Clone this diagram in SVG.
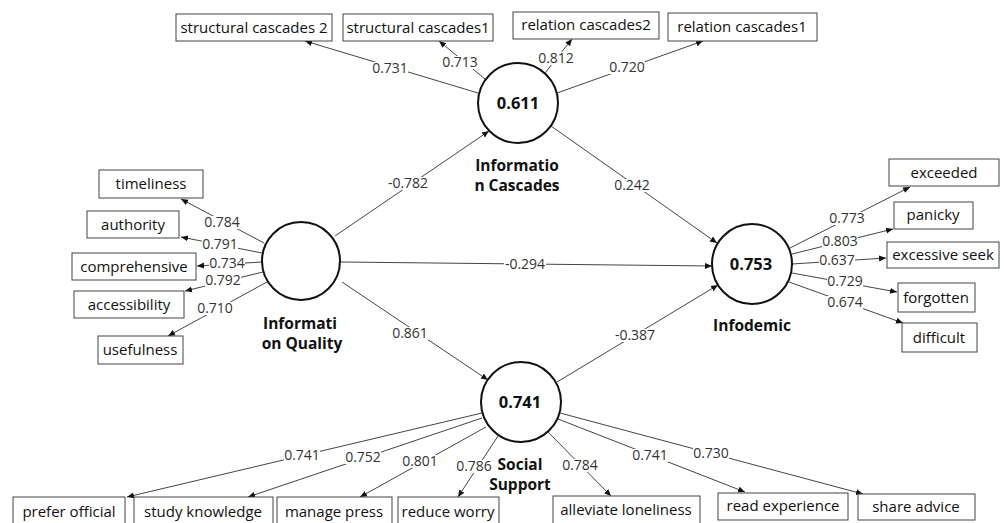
<svg xmlns="http://www.w3.org/2000/svg" width="1004" height="523" viewBox="0 0 1004 523">
<style>
.box{fill:#fff;stroke:#444;stroke-width:1}
.bt{font-family:"Open Sans","Liberation Sans",sans-serif;font-size:15px;fill:#111;text-anchor:middle}
.lat{fill:#fff;stroke:#111;stroke-width:2}
.val{font-family:"Open Sans","Liberation Sans",sans-serif;font-size:16.5px;font-weight:bold;fill:#111;text-anchor:middle}
.nm{font-family:"Open Sans","Liberation Sans",sans-serif;font-size:15.5px;font-weight:bold;fill:#111;text-anchor:middle}
.ln{stroke:#444;stroke-width:1;fill:none;marker-end:url(#ah)}
.lb{font-family:"Open Sans","Liberation Sans",sans-serif;font-size:14px;fill:#333;text-anchor:middle}
.bg{fill:#fff;stroke:none}
</style>
<defs>
<marker id="ah" markerUnits="userSpaceOnUse" markerWidth="8" markerHeight="8" refX="7" refY="4" orient="auto">
<path d="M0,1 L7,4 L0,7 z" fill="#111"/>
</marker>
</defs>
<rect width="1004" height="523" fill="#fff"/>
<g id="connectors">
<line class="ln" x1="335" y1="236" x2="489" y2="131"/>
<line class="ln" x1="551" y1="126" x2="717" y2="243"/>
<line class="ln" x1="341" y1="262" x2="712" y2="266"/>
<line class="ln" x1="342" y1="282" x2="488" y2="380"/>
<line class="ln" x1="557" y1="382" x2="718" y2="285"/>
<line class="ln" x1="478" y1="93" x2="305" y2="41"/>
<line class="ln" x1="485" y1="79" x2="439" y2="41"/>
<line class="ln" x1="545" y1="73" x2="572" y2="39"/>
<line class="ln" x1="557" y1="93" x2="703" y2="41"/>
<line class="ln" x1="264" y1="243" x2="181" y2="199"/>
<line class="ln" x1="262" y1="253" x2="181" y2="237"/>
<line class="ln" x1="262" y1="262" x2="197" y2="266"/>
<line class="ln" x1="263" y1="272" x2="185" y2="291"/>
<line class="ln" x1="267" y1="282" x2="168" y2="336"/>
<line class="ln" x1="790" y1="248" x2="910" y2="187"/>
<line class="ln" x1="792" y1="254" x2="893" y2="229"/>
<line class="ln" x1="792" y1="264" x2="886" y2="258"/>
<line class="ln" x1="792" y1="273" x2="897" y2="292"/>
<line class="ln" x1="789" y1="282" x2="903" y2="323"/>
<line class="ln" x1="482" y1="413" x2="127" y2="497"/>
<line class="ln" x1="482" y1="418" x2="248" y2="497"/>
<line class="ln" x1="486" y1="427" x2="360" y2="497"/>
<line class="ln" x1="498" y1="436" x2="458" y2="497"/>
<line class="ln" x1="548" y1="432" x2="611" y2="496"/>
<line class="ln" x1="558" y1="419" x2="745" y2="492"/>
<line class="ln" x1="560" y1="413" x2="863" y2="494"/>
<g>
<rect class="bg" x="387" y="177" width="42" height="13"/><text class="lb" x="408" y="188">-0.782</text>
<rect class="bg" x="614" y="179" width="36" height="13"/><text class="lb" x="632" y="190">0.242</text>
<rect class="bg" x="504" y="258" width="42" height="13"/><text class="lb" x="525" y="269">-0.294</text>
<rect class="bg" x="392" y="327" width="36" height="13"/><text class="lb" x="410" y="338">0.861</text>
<rect class="bg" x="614" y="329" width="42" height="13"/><text class="lb" x="635" y="340">-0.387</text>
<rect class="bg" x="372" y="62" width="36" height="13"/><text class="lb" x="390" y="73">0.731</text>
<rect class="bg" x="442" y="56" width="36" height="13"/><text class="lb" x="460" y="67">0.713</text>
<rect class="bg" x="538" y="52" width="36" height="13"/><text class="lb" x="556" y="63">0.812</text>
<rect class="bg" x="609" y="61" width="36" height="13"/><text class="lb" x="627" y="72">0.720</text>
<rect class="bg" x="204" y="216" width="36" height="13"/><text class="lb" x="222" y="227">0.784</text>
<rect class="bg" x="202" y="238" width="36" height="13"/><text class="lb" x="220" y="249">0.791</text>
<rect class="bg" x="209" y="257" width="36" height="13"/><text class="lb" x="227" y="268">0.734</text>
<rect class="bg" x="205" y="274" width="36" height="13"/><text class="lb" x="223" y="285">0.792</text>
<rect class="bg" x="197" y="302" width="36" height="13"/><text class="lb" x="215" y="313">0.710</text>
<rect class="bg" x="829" y="212" width="36" height="13"/><text class="lb" x="847" y="223">0.773</text>
<rect class="bg" x="822" y="235" width="36" height="13"/><text class="lb" x="840" y="246">0.803</text>
<rect class="bg" x="819" y="254" width="36" height="13"/><text class="lb" x="837" y="265">0.637</text>
<rect class="bg" x="827" y="275" width="36" height="13"/><text class="lb" x="845" y="286">0.729</text>
<rect class="bg" x="827" y="296" width="36" height="13"/><text class="lb" x="845" y="307">0.674</text>
<rect class="bg" x="284" y="449" width="36" height="13"/><text class="lb" x="302" y="460">0.741</text>
<rect class="bg" x="345" y="451" width="36" height="13"/><text class="lb" x="363" y="462">0.752</text>
<rect class="bg" x="402" y="455" width="36" height="13"/><text class="lb" x="420" y="466">0.801</text>
<rect class="bg" x="456" y="460" width="36" height="13"/><text class="lb" x="474" y="471">0.786</text>
<rect class="bg" x="562" y="459" width="36" height="13"/><text class="lb" x="580" y="470">0.784</text>
<rect class="bg" x="632" y="449" width="36" height="13"/><text class="lb" x="650" y="460">0.741</text>
<rect class="bg" x="693" y="447" width="36" height="13"/><text class="lb" x="711" y="458">0.730</text>
</g>
</g>
<g id="information-cascades">
<circle class="lat" cx="518" cy="103" r="40"/>
<text class="val" x="518" y="109">0.611</text>
<text class="nm" x="517" y="171">Informatio</text>
<text class="nm" x="517" y="191">n Cascades</text>
</g>
<g id="information-quality">
<circle class="lat" cx="301" cy="261" r="39"/>
<text class="nm" x="300" y="329">Informati</text>
<text class="nm" x="302" y="349">on Quality</text>
</g>
<g id="infodemic">
<circle class="lat" cx="752" cy="264" r="40"/>
<text class="val" x="751" y="270">0.753</text>
<text class="nm" x="752" y="331">Infodemic</text>
</g>
<g id="social-support">
<circle class="lat" cx="521" cy="402" r="40"/>
<text class="val" x="520" y="408">0.741</text>
<text class="nm" x="520" y="470">Social</text>
<text class="nm" x="520" y="490">Support</text>
</g>
<g id="sc2"><rect class="box" x="176" y="14" width="156" height="27"/><text class="bt" x="254" y="33">structural cascades 2</text></g>
<g id="sc1"><rect class="box" x="343" y="14" width="150" height="27"/><text class="bt" x="418" y="33">structural cascades1</text></g>
<g id="rc2"><rect class="box" x="513" y="12" width="146" height="27"/><text class="bt" x="586" y="30">relation cascades2</text></g>
<g id="rc1"><rect class="box" x="668" y="13" width="149" height="28"/><text class="bt" x="742" y="32">relation cascades1</text></g>
<g id="timeliness"><rect class="box" x="99" y="170" width="104" height="28"/><text class="bt" x="151" y="189">timeliness</text></g>
<g id="authority"><rect class="box" x="87" y="211" width="92" height="27"/><text class="bt" x="133" y="230">authority</text></g>
<g id="comprehensive"><rect class="box" x="72" y="253" width="124" height="27"/><text class="bt" x="134" y="272">comprehensive</text></g>
<g id="accessibility"><rect class="box" x="74" y="291" width="110" height="27"/><text class="bt" x="129" y="310">accessibility</text></g>
<g id="usefulness"><rect class="box" x="98" y="336" width="85" height="28"/><text class="bt" x="140" y="355">usefulness</text></g>
<g id="exceeded"><rect class="box" x="889" y="159" width="110" height="27"/><text class="bt" x="944" y="178">exceeded</text></g>
<g id="panicky"><rect class="box" x="894" y="202" width="79" height="27"/><text class="bt" x="933" y="220">panicky</text></g>
<g id="excessive-seek"><rect class="box" x="887" y="242" width="112" height="26"/><text class="bt" x="943" y="260">excessive seek</text></g>
<g id="forgotten"><rect class="box" x="898" y="283" width="77" height="29"/><text class="bt" x="936" y="303">forgotten</text></g>
<g id="difficult"><rect class="box" x="902" y="323" width="75" height="29"/><text class="bt" x="939" y="343">difficult</text></g>
<g id="prefer-official"><rect class="box" x="13" y="497" width="112" height="30"/><text class="bt" x="69" y="517">prefer official</text></g>
<g id="study-knowledge"><rect class="box" x="134" y="497" width="139" height="30"/><text class="bt" x="203" y="517">study knowledge</text></g>
<g id="manage-press"><rect class="box" x="277" y="497" width="115" height="30"/><text class="bt" x="334" y="517">manage press</text></g>
<g id="reduce-worry"><rect class="box" x="398" y="497" width="101" height="30"/><text class="bt" x="448" y="517">reduce worry</text></g>
<g id="alleviate-loneliness"><rect class="box" x="553" y="496" width="147" height="30"/><text class="bt" x="626" y="515">alleviate loneliness</text></g>
<g id="read-experience"><rect class="box" x="718" y="493" width="130" height="27"/><text class="bt" x="783" y="511">read experience</text></g>
<g id="share-advice"><rect class="box" x="858" y="494" width="117" height="26"/><text class="bt" x="916" y="512">share advice</text></g>
</svg>
